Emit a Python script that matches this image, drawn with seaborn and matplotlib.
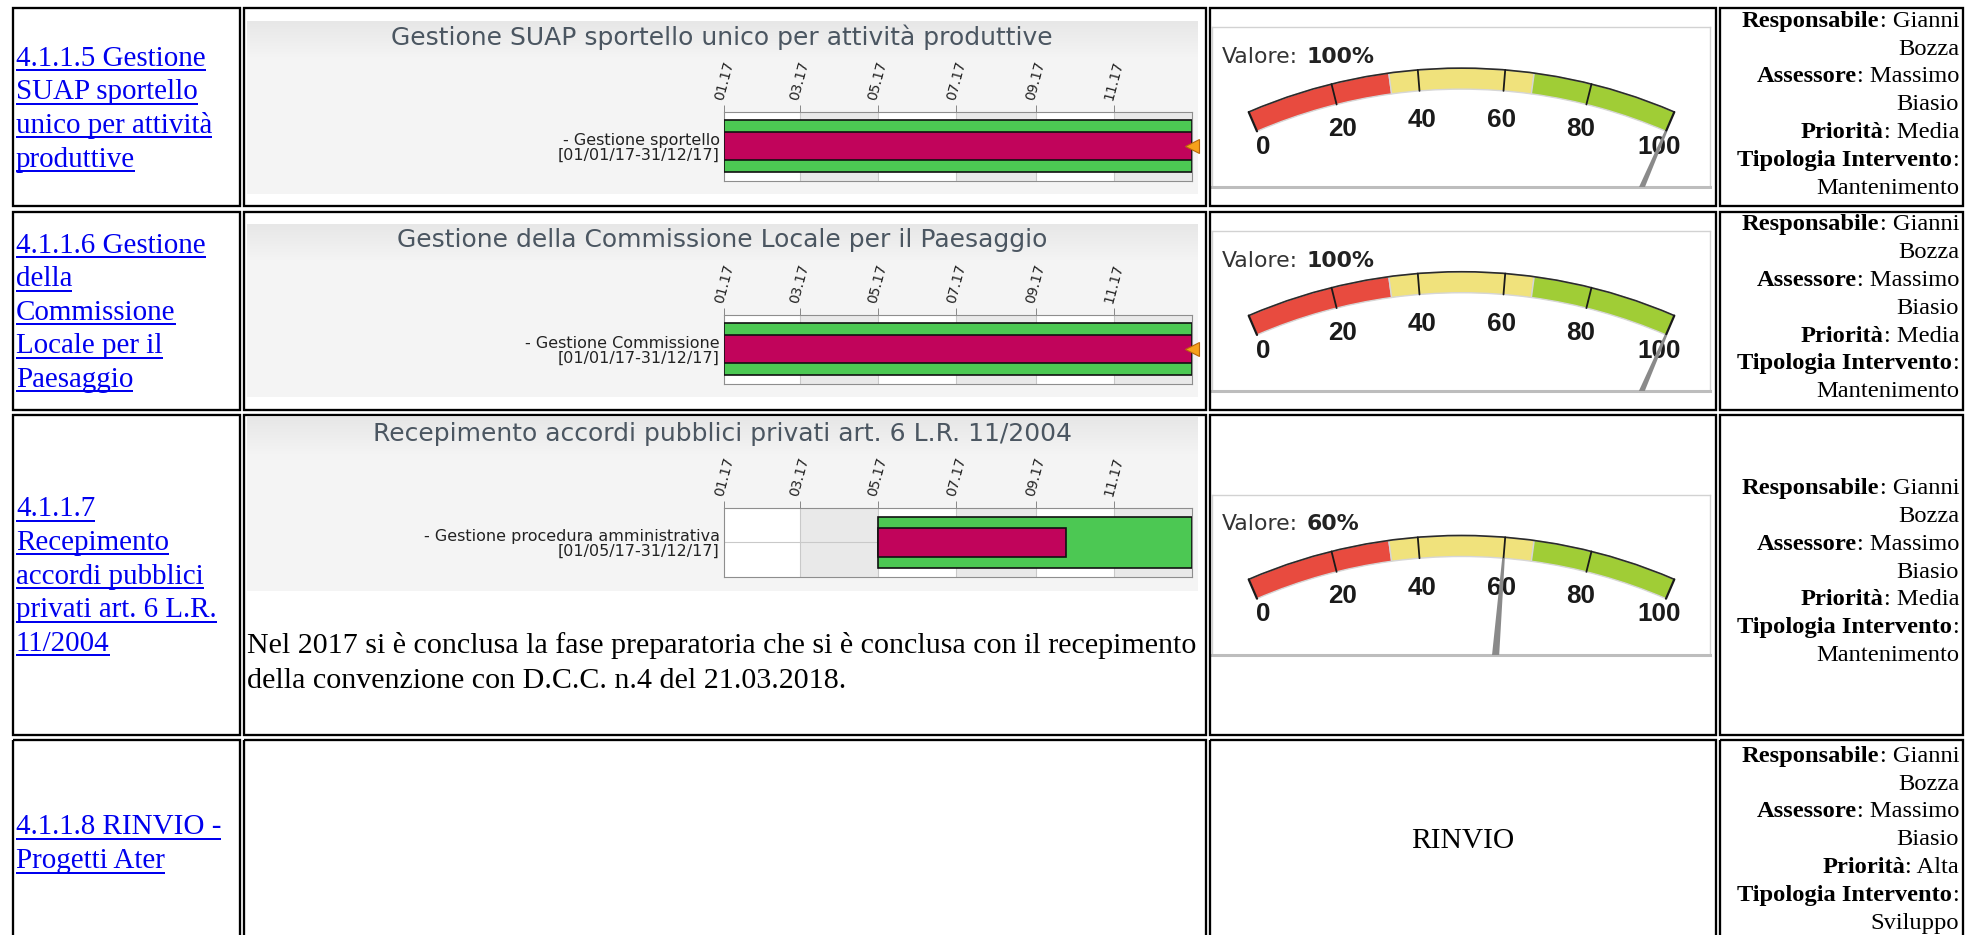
import matplotlib
matplotlib.use("Agg")
import numpy as np
import pandas as pd
import matplotlib.pyplot as plt
import matplotlib.dates as mdates
from matplotlib.patches import Rectangle, Wedge, Polygon, Arc
import seaborn as sns

W, H, DPI = 1973, 935, 100
PT = 72 / DPI  # points per pixel

# ---------------- content ----------------
item_lines = [
    ["4.1.1.5 Gestione", "SUAP sportello", "unico per attività", "produttive"],
    ["4.1.1.6 Gestione", "della", "Commissione", "Locale per il", "Paesaggio"],
    ["4.1.1.7", "Recepimento", "accordi pubblici", "privati art. 6 L.R.", "11/2004"],
    ["4.1.1.8 RINVIO -", "Progetti Ater"],
]
chart_titles = [
    "Gestione SUAP sportello unico per attività produttive",
    "Gestione della Commissione Locale per il Paesaggio",
    "Recepimento accordi pubblici privati art. 6 L.R. 11/2004",
]
task_names = ["- Gestione sportello", "- Gestione Commissione",
              "- Gestione procedura amministrativa"]
task_start = ["2017-01-01", "2017-01-01", "2017-05-01"]
task_end = ["2017-12-31", "2017-12-31", "2017-12-31"]
progress = [100, 100, 60]          # percent complete (gauge value)
note_lines = [
    "Nel 2017 si è conclusa la fase preparatoria che si è conclusa con il recepimento",
    "della convenzione con D.C.C. n.4 del 21.03.2018.",
]
rinvio_label = "RINVIO"
gauge_ticks = [0, 20, 40, 60, 80, 100]
band_limits = [0, 100 / 3, 200 / 3, 100]
band_colors = ["#e84b3f", "#f0e27c", "#a0cd36"]
responsabile = ["Gianni Bozza"] * 4
assessore = ["Massimo Biasio"] * 4
priorita = ["Media", "Media", "Media", "Alta"]
tipologia = ["Mantenimento", "Mantenimento", "Mantenimento", "Sviluppo"]

# ---------------- layout (pixels) ----------------
COLS = [(12.8, 240.3), (243.8, 1205.7), (1209.5, 1715.5), (1719.5, 1963.3)]
ROWS = [(8.3, 206.0), (212.0, 409.5), (414.5, 734.5), (739.5, 945.0)]
GANTT_TOPS = [20.5, 223.5, 416.7]
GANTT_X = (247.0, 1197.5)
FRAME_X = (724.0, 1192.0)
BOX_X = (1212.0, 1710.0)
LINK = "#0000EE"
GREEN, MAGENTA, ORANGE = "#4cc853", "#c1045b", "#f7a11a"

sns.set_theme(style="white")
plt.rcParams["font.family"] = ["DejaVu Sans"]
SERIF = ["Liberation Serif", "DejaVu Serif"]
SANS = ["DejaVu Sans"]

fig = plt.figure(figsize=(W / DPI, H / DPI), dpi=DPI)
fig.patch.set_facecolor("white")
renderer = fig.canvas.get_renderer()


def frac(x0, y0, x1, y1):
    return [x0 / W, 1 - y1 / H, (x1 - x0) / W, (y1 - y0) / H]


page = fig.add_axes([0, 0, 1, 1])
page.set_xlim(0, W)
page.set_ylim(H, 0)
page.axis("off")
page.set_zorder(10)

# table cell borders
for (y0, y1) in ROWS:
    for (x0, x1) in COLS:
        page.add_patch(Rectangle((x0, y0), x1 - x0, y1 - y0, fill=False,
                                 ec="black", lw=2.3 * PT))

# first column: underlined links
for r, lines in enumerate(item_lines):
    yc = (ROWS[r][0] + ROWS[r][1]) / 2 + 9
    step = 33.6
    first = yc - (len(lines) - 1) / 2 * step
    for k, s in enumerate(lines):
        yb = first + k * step
        t = page.text(16, yb, s, ha="left", va="baseline", family=SERIF,
                      fontsize=29 * PT, color=LINK)
        bb = t.get_window_extent(renderer)
        page.plot([bb.x0, bb.x1], [yb + 4.5, yb + 4.5], color=LINK,
                  lw=2 * PT, solid_capstyle="butt")

# last column: right-aligned details
def info_lines(i):
    r1, r2 = responsabile[i].split(" ", 1)
    a1, a2 = assessore[i].split(" ", 1)
    return [("Responsabile", ": " + r1), ("", r2), ("Assessore", ": " + a1), ("", a2),
            ("Priorità", ": " + priorita[i]), ("Tipologia Intervento", ":"),
            ("", tipologia[i])]


XR = 1959
for r in range(4):
    lines = info_lines(r)
    mid = (ROWS[r][0] + ROWS[r][1]) / 2 + 3
    step = 27.8
    first = mid - (len(lines) - 1) / 2 * step
    for k, (bold, reg) in enumerate(lines):
        yb = first + k * step
        t = page.text(XR, yb, reg, ha="right", va="baseline", family=SERIF,
                      fontsize=24.5 * PT, color="black")
        w = t.get_window_extent(renderer).width
        if bold:
            page.text(XR - w, yb, bold, ha="right", va="baseline", family=SERIF,
                      fontsize=24.5 * PT, color="black", weight="bold")

# note under the third chart
for k, s in enumerate(note_lines):
    page.text(247, 653 + k * 35, s, ha="left", va="baseline", family=SERIF,
              fontsize=30 * PT, color="black")

# postponed item
page.text((COLS[2][0] + COLS[2][1]) / 2, 848, rinvio_label, ha="center",
          va="baseline", family=SERIF, fontsize=29.5 * PT, color="black")

# ---------------- Gantt charts ----------------
axis_start = pd.Timestamp("2017-01-01")
axis_end = pd.Timestamp("2018-01-01")
xa, xb = mdates.date2num(axis_start), mdates.date2num(axis_end)
tick_days = [mdates.date2num(pd.Timestamp(2017, m, 1)) for m in (1, 3, 5, 7, 9, 11)]

grad_rows = 174
shade = np.ones(grad_rows)
ramp = 40
shade[:ramp] = np.linspace(0.905, 0.96, ramp)
shade[ramp:] = 0.96
grad = np.repeat(shade[:, None, None], 3, axis=2)

for i in range(3):
    gtop = GANTT_TOPS[i]
    bg = fig.add_axes(frac(GANTT_X[0], gtop, GANTT_X[1], gtop + 174))
    bg.imshow(grad, aspect="auto", extent=[0, 1, 0, 1], vmin=0, vmax=1)
    bg.axis("off")
    bg.text(0.5, 1 - 17 / 174, chart_titles[i], transform=bg.transAxes,
            ha="center", va="center", family=SANS, fontsize=25 * PT, color="#4b5661")

    start = pd.Timestamp(task_start[i])
    end = pd.Timestamp(task_end[i])
    s = mdates.date2num(start)
    e = mdates.date2num(end + pd.Timedelta(days=1))
    ylab = f"{task_names[i]}\n[{start:%d/%m/%y}-{end:%d/%m/%y}]"

    ax = fig.add_axes(frac(FRAME_X[0], gtop + 91, FRAME_X[1], gtop + 160))
    ax.set_facecolor("white")
    edges = tick_days + [xb]
    for k in range(len(edges) - 1):
        if k % 2 == 1:
            ax.axvspan(edges[k], edges[k + 1], color="#e9e9e9", lw=0, zorder=0)
    for t in tick_days[1:]:
        ax.axvline(t, color="#c9c9c9", lw=0.8, zorder=0.5)
    ax.axhline(0, color="#c9c9c9", lw=0.8, zorder=0.5)

    sns.barplot(x=[e - s], y=[ylab], orient="h", left=s, width=0.74, color=GREEN,
                saturation=1, edgecolor="#111111", linewidth=1.2, ax=ax, zorder=3)
    done = progress[i] / 100 * (e - s)
    sns.barplot(x=[done], y=[ylab], orient="h", left=s, width=0.42, color=MAGENTA,
                saturation=1, edgecolor="#111111", linewidth=1.2, ax=ax, zorder=4)
    if progress[i] >= 100:
        ax.plot([s + done], [0], marker="<", ms=9.5, mfc=ORANGE, mec="#b8660b",
                mew=0.8, clip_on=False, zorder=6)

    ax.set_xlim(xa, xb)
    ax.set_ylim(0.5, -0.5)
    ax.set_xlabel("")
    ax.set_ylabel("")
    ax.set_xticks(tick_days)
    ax.xaxis.set_major_formatter(mdates.DateFormatter("%m.%y"))
    ax.xaxis.tick_top()
    ax.tick_params(axis="x", top=True, bottom=False, labeltop=True, labelbottom=False,
                   length=5, width=0.7, color="#888888", pad=2,
                   labelsize=14 * PT, labelcolor="#222222", labelrotation=75)
    ax.tick_params(axis="y", length=0, pad=3, labelsize=16 * PT, labelcolor="#222222")
    for lab in ax.get_yticklabels():
        lab.set_multialignment("right")
        lab.set_linespacing(1.02)
        lab.set_family(SANS)
    for sp in ax.spines.values():
        sp.set_color("#8e8e8e")
        sp.set_linewidth(0.8)
        sp.set_visible(True)

# ---------------- gauges ----------------
GCX, GCY_OFF = 249.5, 579.0
R_OUT, R_IN = 538.0, 517.0
HALF_SPAN = 23.3


def ang(v):
    return 90 + HALF_SPAN - v * 2 * HALF_SPAN / 100


for i in range(3):
    mid = (ROWS[i][0] + ROWS[i][1]) / 2
    btop = mid - 80
    gx = fig.add_axes(frac(BOX_X[0], btop, BOX_X[1], btop + 160))
    bw = BOX_X[1] - BOX_X[0]
    gx.set_xlim(0, bw)
    gx.set_ylim(0, 160)
    gx.set_facecolor("white")
    gx.set_xticks([])
    gx.set_yticks([])
    for name, sp in gx.spines.items():
        sp.set_visible(True)
        sp.set_color("#d2d2d2")
        sp.set_linewidth(1.0)
    gx.spines["bottom"].set_color("#bdbdbd")
    gx.spines["bottom"].set_linewidth(2.2)
    cy = 160 - GCY_OFF

    for b in range(3):
        gx.add_patch(Wedge((GCX, cy), R_OUT, ang(band_limits[b + 1]), ang(band_limits[b]),
                           width=R_OUT - R_IN, fc=band_colors[b], ec="#d6d6d6", lw=1.0))
    gx.add_patch(Arc((GCX, cy), 2 * R_OUT, 2 * R_OUT, theta1=ang(100), theta2=ang(0),
                     color="#2b2b2b", lw=1.2))
    for v in gauge_ticks:
        phi = np.deg2rad(ang(v))
        c, sn = np.cos(phi), np.sin(phi)
        gx.plot([GCX + R_IN * c, GCX + R_OUT * c], [cy + R_IN * sn, cy + R_OUT * sn],
                color="#1a1a1a", lw=1.3 if v not in (0, 100) else 1.6)
        rl = 487 + 13 * ((v - 50) / 50) ** 2
        gx.text(GCX + rl * c, cy + rl * sn, f"{v}", ha="center", va="center",
                family=["Liberation Sans", "DejaVu Sans"], weight="bold",
                fontsize=26 * PT, color="#1a1a1a", zorder=4)

    # needle
    phi = np.deg2rad(ang(progress[i]))
    d = np.array([np.cos(phi), np.sin(phi)])
    p = np.array([-np.sin(phi), np.cos(phi)])
    c0 = np.array([GCX, cy])
    base, tip = c0 + 380 * d, c0 + R_IN * d
    gx.add_patch(Polygon([base + 4.5 * p, tip + 1.3 * p, tip - 1.3 * p, base - 4.5 * p],
                         closed=True, fc="#8a8a8a", ec="none", zorder=5))

    t1 = gx.text(10, 130, "Valore:", ha="left", va="center", family=SANS,
                 fontsize=22 * PT, color="#333333")
    bb = t1.get_window_extent(renderer)
    gx.text(bb.x1 - BOX_X[0] + 8, 130, f"{progress[i]}%", ha="left", va="center",
            family=SANS, fontsize=22 * PT, color="#222222", weight="bold")

fig.savefig("out.png", dpi=DPI, facecolor="white")
